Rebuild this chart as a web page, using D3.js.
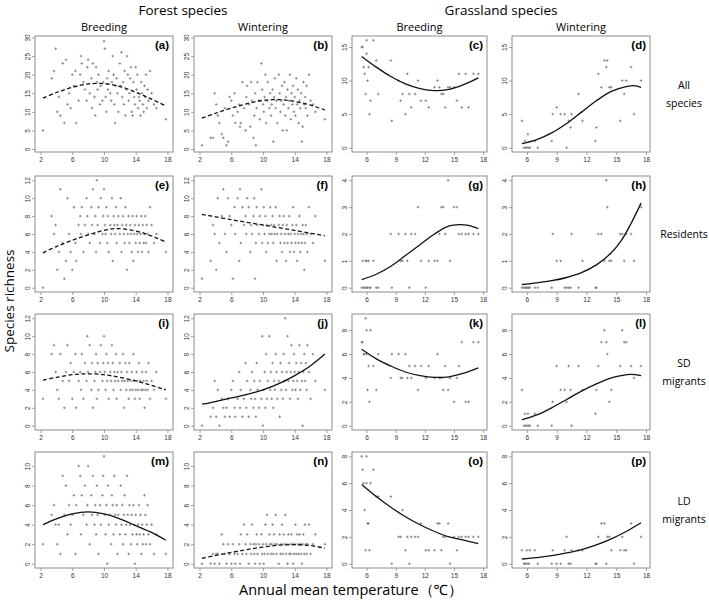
<!DOCTYPE html>
<html><head><meta charset="utf-8">
<script src="https://cdn.jsdelivr.net/npm/d3@7"></script>
<style>body{margin:0;background:#fff}svg{display:block}text{font-family:"Open Sans","Noto Sans",sans-serif}</style>
</head><body><svg id="c" width="709" height="600"></svg>
<script>
// ---------- DATA ----------
const forestTemp = [2.3,3.4,3.7,3.9,4.1,4.3,4.5,4.8,5.0,5.2,5.4,5.6,5.8,6.0,6.2,6.4,6.5,6.8,7.0,7.1,7.2,7.4,7.6,7.8,7.9,8.0,8.2,8.4,8.5,8.6,8.8,8.9,9.0,9.1,9.2,9.3,9.5,9.6,9.8,9.9,10.0,10.1,10.2,10.3,10.4,10.5,10.6,10.8,10.9,11.0,11.1,11.2,11.3,11.4,11.5,11.6,11.7,11.8,12.0,12.1,12.2,12.3,12.4,12.5,12.6,12.7,12.8,12.9,13.0,13.1,13.2,13.3,13.4,13.5,13.6,13.7,13.8,13.9,14.0,14.1,14.2,14.3,14.4,14.5,14.6,14.7,14.8,14.9,15.0,15.1,15.2,15.3,15.4,15.5,15.6,15.8,16.0,16.3,16.6,17.8];
const forestBreedAll = [5,19,21,27,10,14,9,23,7,24, 12,15,11,20,17,21,7,13,20,25, 23,18,16,13,22,24,15,19,11,23, 14,9,22,18,16,20,12,17,13,18, 29,27,14,10,19,16,21,15,13,18, 25,20,12,7,17,19,15,10,23,17, 26,14,18,12,21,9,16,25,20,13, 15,19,22,10,9,18,14,12,22,16, 20,11,14,13,9,18,15,12,10,17, 14,20,11,16,13,21,15,12,11,8];
const forestWintAll = [1,3,3,15,12,9,7,4,3,11, 1,2,14,13,9,15,7,10,12,6, 7,18,11,5,14,17,12,6,18,13, 3,9,15,1,11,18,13,8,23,16, 12,10,14,20,7,13,18,11,15,9, 12,16,2,14,19,11,13,7,20,15, 10,13,17,5,12,18,9,14,5,16, 11,13,20,8,15,12,17,10,14,9, 19,12,16,7,13,11,15,2,6,18, 12,14,11,17,9,20,13,12,10,8];
const forestBreedRes = [0,8,6,7,2,4,11,5,1,3, 10,6,4,2,9,5,3,7,8,6, 9,4,7,10,8,6,5,9,7,11, 6,8,4,12,7,9,5,10,6,8, 11,7,6,9,5,8,4,7,6,10, 3,8,7,6,9,5,7,8,6,10, 4,7,8,6,5,9,7,2,6,8, 5,7,6,4,8,3,6,7,5,8, 6,4,7,5,6,8,4,7,5,6, 8,5,7,6,4,9,7,5,6,4];
const forestWintRes = [1,3,7,6,2,10,5,8,11,6, 4,10,8,7,1,9,6,10,3,11, 5,9,7,8,6,10,9,4,7,6, 8,10,1,5,9,7,6,8,11,5, 7,9,6,8,4,7,5,6,9,7, 6,8,5,7,6,9,3,6,7,8, 5,6,4,7,8,5,6,3,7,5, 6,8,4,6,5,7,9,4,6,5, 7,3,6,5,8,4,6,5,7,6, 2,5,7,6,4,9,6,5,8,3];
const forestBreedSD = [3,8,9,6,4,3,8,5,2,6, 9,5,7,3,6,8,2,5,6,4, 8,3,7,5,10,6,9,4,7,2, 5,6,8,3,7,4,6,9,5,7, 10,6,4,8,5,7,3,6,5,9, 7,4,6,5,8,3,6,5,7,4, 6,5,8,2,5,7,4,6,5,3, 7,4,5,6,4,8,5,3,4,6, 5,4,7,3,5,4,6,4,5,2, 4,6,5,4,7,3,5,4,6,3];
const forestWintSD = [0,1,2,5,1,4,0,3,2,1, 2,3,1,4,5,2,1,3,6,2, 4,1,3,7,2,5,1,4,3,6, 2,5,3,1,7,4,2,5,3,10, 0,4,6,2,8,3,5,10,4,6, 3,7,2,5,4,8,6,3,5,1, 7,4,6,3,8,5,12,4,6,10, 5,7,3,6,9,4,5,8,6,4, 7,5,3,6,9,4,7,5,0,6, 8,5,7,4,9,6,3,8,5,4];
const forestBreedLD = [2,5,6,4,2,4,1,9,5,8, 3,6,4,5,7,1,6,10,9,3, 7,5,8,4,6,10,2,7,5,9, 4,6,3,8,5,1,6,4,7,9, 11,5,3,6,0,8,4,5,2,7, 6,3,9,5,4,6,1,5,3,8, 4,6,2,5,7,3,4,9,5,1, 6,4,2,5,3,6,4,0,5,3, 2,4,6,3,5,1,4,2,3,7, 5,2,4,6,3,2,4,1,3,1];
const forestWintLD = [0,0,1,0,1,1,0,3,2,1, 0,2,1,0,2,1,0,1,2,0, 3,1,4,2,1,3,0,2,1,4, 2,1,0,2,3,1,2,0,3,1, 2,0,1,4,2,5,1,3,2,1, 2,4,1,3,2,5,1,2,0,3, 1,2,4,1,3,2,5,1,2,0, 3,1,2,1,3,2,0,1,2,4, 1,3,2,1,3,2,1,0,2,3, 1,4,2,1,2,4,1,2,3,2];

const grassBreedTemp = [5.5,5.6,5.7,5.8,5.9,6.0,6.0,6.1,6.2,6.3,6.4,6.7,7.0,7.2,8.5,8.6,9.3,9.5,9.7,10.0,10.2,10.4,10.6,11.0,11.3,11.6,12.1,12.4,13.0,13.3,13.5,13.7,13.9,14.1,14.4,14.6,15.0,15.3,15.5,15.8,16.2,16.5,17.0,17.5];
const grassBreedAll = [15,15,12,11,8,16,14,10,12,5,7,16,13,8,13,4,10,7,8,5, 11,8,6,8,10,7,7,6,9,10,9,8,8,6,9,9,9,7,11,6, 11,6,11,11];
const grassBreedRes = [0,1,0,0,1,0,1,0,1,0,0,1,0,0,2,0,2,1,1,2, 1,0,2,2,3,1,0,1,1,1,2,3,3,2,4,1,3,3,2,2, 2,2,2,2];
const grassBreedSD = [7,7,6,6,9,6,8,3,5,2,8,5,3,6,4,6,6,4,4,6, 4,5,4,5,3,5,4,5,4,6,4,4,3,5,3,4,2,4,5,7, 2,2,7,7];
const grassBreedLD = [8,7,6,4,1,6,8,3,3,1,6,7,5,5,5,0,2,2,4,1, 2,0,2,2,2,3,1,1,1,3,3,1,2,2,3,0,2,1,2,2, 2,2,2,2];

const grassWintTemp = [5.5,5.7,5.8,5.9,6.0,6.1,6.2,6.3,6.8,7.1,8.5,8.6,9.0,9.4,9.8,10.0,10.2,10.4,10.5,11.2,11.6,12.9,13.0,13.2,13.5,13.8,14.0,14.1,14.3,14.5,15.4,15.6,15.8,16.0,16.5,16.8,17.5];
const grassWintAll = [4,0,1,0,0,2,0,0,1,0,1,5,6,5,5,0,4,3,5,8, 4,1,3,11,9,13,12,13,9,9,4,10,8,10,12,5,10];
const grassWintRes = [0,0,0,0,0,0,0,0,0,0,0,2,1,1,0,0,0,0,2,0, 1,0,0,2,2,1,4,3,1,1,2,2,1,2,2,1,3];
const grassWintSD = [3,0,1,0,0,1,0,0,1,0,0,2,5,3,3,2,5,3,0,5, 3,1,3,5,7,8,7,6,2,3,5,8,7,7,5,4,5];
const grassWintLD = [1,0,0,0,1,0,0,1,1,0,0,1,0,0,1,2,0,0,1,1, 1,0,0,2,3,3,0,2,2,1,1,2,1,1,3,0,2];

// fitted curves: [temperature, richness]
const fitA = [[2.3,13.7],[4,15.2],[6,16.6],[8,17.5],[10,17.6],[12,16.8],[14,15.3],[16,13.4],[17.8,11.6]];
const fitB = [[2.3,8.3],[4,9.6],[6,11],[8,12.2],[10,13.1],[12,13.3],[14,12.8],[16,11.8],[17.8,10.5]];
const fitC = [[5.5,13.6],[7,12],[8.5,10.6],[10,9.5],[11.5,8.8],[13,8.5],[14.5,8.7],[16,9.4],[17.5,10.4]];
const fitD = [[5.5,0.6],[7,1.2],[8.5,2.2],[10,3.6],[11.5,5.3],[13,7],[14.5,8.4],[16,9.1],[16.8,9.25],[17.5,9.0]];
const fitE = [[2.3,3.9],[4,4.6],[6,5.3],[8,5.9],[10,6.4],[11.5,6.6],[13,6.5],[15,6.1],[16.5,5.6],[17.8,5.1]];
const fitF = [[2.3,8.2],[6,7.6],[10,7.0],[14,6.4],[17.8,5.8]];
const fitG = [[5.5,0.3],[7,0.5],[8.5,0.8],[10,1.2],[11.5,1.6],[13,2.0],[14.5,2.3],[15.5,2.35],[16.5,2.32],[17.5,2.2]];
const fitH = [[5.5,0.12],[7,0.18],[8.5,0.26],[10,0.38],[11.5,0.56],[13,0.85],[14.5,1.3],[15.5,1.75],[16.5,2.4],[17.5,3.15]];
const fitI = [[2.3,5.1],[4,5.4],[6,5.7],[8,5.8],[10,5.7],[12,5.4],[14,5.0],[16,4.5],[17.8,4.0]];
const fitJ = [[2.3,2.4],[4,2.7],[6,3.1],[8,3.5],[10,4.0],[12,4.7],[14,5.6],[16,6.7],[17.8,8.0]];
const fitK = [[5.5,6.4],[7,5.6],[8.5,5.0],[10,4.5],[11.5,4.2],[13,4.05],[14.5,4.1],[16,4.4],[17.5,4.85]];
const fitL = [[5.5,0.5],[7,0.9],[8.5,1.5],[10,2.2],[11.5,2.9],[13,3.5],[14.5,4.0],[15.5,4.2],[16.5,4.3],[17.5,4.2]];
const fitM = [[2.3,4.0],[4,4.6],[6,5.1],[8,5.3],[10,5.1],[12,4.6],[14,3.9],[16,3.2],[17.8,2.4]];
const fitN = [[2.3,0.55],[4,0.85],[6,1.15],[8,1.45],[10,1.7],[12,1.9],[14,1.95],[16,1.85],[17.8,1.6]];
const fitO = [[5.5,5.9],[7,5.0],[8.5,4.2],[10,3.5],[11.5,2.9],[13,2.4],[14.5,2.0],[16,1.75],[17.5,1.5]];
const fitP = [[5.5,0.35],[7,0.45],[8.5,0.6],[10,0.8],[11.5,1.05],[13,1.4],[14.5,1.85],[16,2.4],[17.5,3.05]];

const forestXTicks = [2,6,10,14,18];
const grassXTicks = [6,9,12,15,18];
const yTicksForest = [[0,5,10,15,20,25,30],[0,2,4,6,8,10,12],[0,2,4,6,8,10,12],[0,2,4,6,8,10]];
const yTicksGrass = [[0,5,10,15],[0,1,2,3,4],[0,2,4,6,8],[0,2,4,6,8]];
const yDomForest = [[-0.8,30.4],[-0.48,12.48],[-0.48,12.48],[-0.44,11.44]];
const yDomGrass = [[-0.64,16.64],[-0.16,4.16],[-0.36,9.36],[-0.32,8.32]];
const panelLetters = ["a","b","c","d","e","f","g","h","i","j","k","l","m","n","o","p"];
const dashed = ["a","b","e","f","i","n"];
const colTitles = ["Breeding","Wintering","Breeding","Wintering"];
const rowTitles = [["All","species"],["Residents"],["SD","migrants"],["LD","migrants"]];

// ---------- LAYOUT ----------
const colLeft = [35,194,352,512], colW = [138,138,135,138];
const rowTop = [36,176,314,452], rowH = 116;

const panels = [
  [forestTemp, forestBreedAll, fitA],[forestTemp, forestWintAll, fitB],[grassBreedTemp, grassBreedAll, fitC],[grassWintTemp, grassWintAll, fitD],
  [forestTemp, forestBreedRes, fitE],[forestTemp, forestWintRes, fitF],[grassBreedTemp, grassBreedRes, fitG],[grassWintTemp, grassWintRes, fitH],
  [forestTemp, forestBreedSD, fitI],[forestTemp, forestWintSD, fitJ],[grassBreedTemp, grassBreedSD, fitK],[grassWintTemp, grassWintSD, fitL],
  [forestTemp, forestBreedLD, fitM],[forestTemp, forestWintLD, fitN],[grassBreedTemp, grassBreedLD, fitO],[grassWintTemp, grassWintLD, fitP]
];

const svg = d3.select("#c");
const frameCol = "#8c8c8c";
const fmt = d3.format("d");

panels.forEach((p, idx) => {
  const r = Math.floor(idx/4), c = idx % 4;
  const forest = c < 2;
  const x0 = colLeft[c], y0 = rowTop[r], w = colW[c], h = rowH;
  const x = d3.scaleLinear().domain(forest ? [1.3,18.7] : [4.5,18.4]).range([x0, x0+w]);
  const y = d3.scaleLinear().domain(forest ? yDomForest[r] : yDomGrass[r]).range([y0+h, y0]);
  const g = svg.append("g");

  // axes
  const xa = g.append("g").attr("transform", `translate(0,${y0+h})`)
    .call(d3.axisBottom(x).tickValues(forest ? forestXTicks : grassXTicks).tickFormat(fmt).tickSize(3).tickPadding(2));
  const ya = g.append("g").attr("transform", `translate(${x0},0)`)
    .call(d3.axisLeft(y).tickValues(forest ? yTicksForest[r] : yTicksGrass[r]).tickFormat(fmt).tickSize(3).tickPadding(2));
  [xa, ya].forEach(a => {
    a.select(".domain").remove();
    a.selectAll("line").attr("stroke", frameCol).attr("stroke-width", 0.8);
    a.selectAll("text").attr("fill", "#333").style("font-size", "6.5px").style("font-family", "Liberation Sans, Arial, sans-serif");
  });
  ya.selectAll(".tick text").each(function(){
    d3.select(this).attr("x", null).attr("text-anchor", "middle")
      .attr("transform", "translate(-7,0) rotate(-90)").attr("dy", "0.35em");
  });

  // points
  g.append("g").selectAll("path").data(p[0].map((t,i) => [t, p[1][i]])).join("path")
    .attr("d", d => { const px = x(d[0]), py = y(d[1]);
      return `M${px-1.3},${py}H${px+1.3}M${px},${py-1.3}V${py+1.3}`; })
    .attr("stroke", "#7a7a7a").attr("stroke-width", 0.8).attr("fill", "none");

  // fit
  g.append("path").datum(p[2])
    .attr("d", d3.line().x(d => x(d[0])).y(d => y(d[1])).curve(d3.curveCatmullRom))
    .attr("fill", "none").attr("stroke", "#111").attr("stroke-width", 1.3)
    .attr("stroke-dasharray", dashed.includes(panelLetters[idx]) ? "4,2.5" : null);

  // frame
  g.append("rect").attr("x", x0).attr("y", y0).attr("width", w).attr("height", h)
    .attr("fill", "none").attr("stroke", frameCol).attr("stroke-width", 1);

  // letter
  g.append("text").attr("x", x0+w-4).attr("y", y0+13).attr("text-anchor", "end")
    .style("font-size", "11.5px").style("font-weight", "bold").style("font-family", "Liberation Sans, Arial, sans-serif")
    .text(`(${panelLetters[idx]})`);
});

// titles
svg.append("text").attr("x", 183).attr("y", 15).attr("text-anchor", "middle").style("font-size", "13.5px").text("Forest species");
svg.append("text").attr("x", 501).attr("y", 15).attr("text-anchor", "middle").style("font-size", "13.5px").text("Grassland species");
colTitles.forEach((t, c) => {
  svg.append("text").attr("x", colLeft[c] + colW[c]/2).attr("y", 31).attr("text-anchor", "middle").style("font-size", "11px").text(t);
});
rowTitles.forEach((lines, r) => {
  const cy = rowTop[r] + rowH/2;
  const n = lines.length;
  lines.forEach((l, i) => {
    svg.append("text").attr("x", 684).attr("y", cy + (i - (n-1)/2)*18 + 4).attr("text-anchor", "middle")
      .style("font-size", "10.5px").text(l);
  });
});
svg.append("text").attr("transform", "translate(14,301) rotate(-90)").attr("text-anchor", "middle")
  .style("font-size", "13.5px").text("Species richness");
svg.append("text").attr("x", 351).attr("y", 595).attr("text-anchor", "middle")
  .style("font-size", "14.5px").text("Annual mean temperature（℃）");
</script></body></html>
